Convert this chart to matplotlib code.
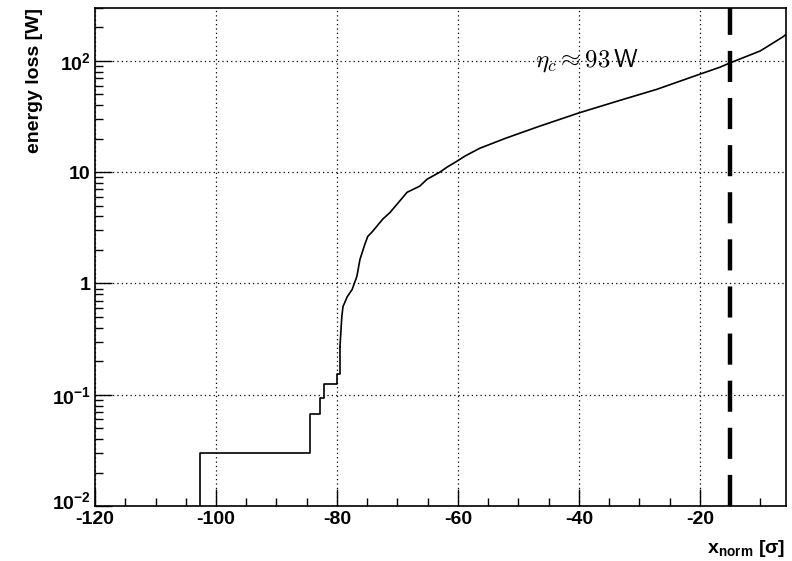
import matplotlib
matplotlib.use("Agg")
import matplotlib.pyplot as plt
import matplotlib.transforms as mtransforms
from matplotlib.ticker import FixedLocator, FixedFormatter, MultipleLocator, LogLocator, NullFormatter

plt.rcParams['font.family'] = ['Liberation Sans', 'DejaVu Sans']
plt.rcParams['mathtext.fontset'] = 'custom'
plt.rcParams['mathtext.rm'] = 'Liberation Sans:bold'
plt.rcParams['mathtext.bf'] = 'Liberation Sans:bold'
plt.rcParams['mathtext.it'] = 'Liberation Sans:bold'

# discrete (step) part of the curve
step_x = [-102.6, -102.6, -84.5, -82.8, -82.2, -80.05, -79.5]
step_y = [0.005, 0.0301, 0.0674, 0.093, 0.125, 0.155, 0.27]

# dense (near continuous) part of the curve
curve_x = [-79.5, -79.2, -79.0, -78.3, -77.5, -76.7, -76.2, -75.4, -74.9, -74.2, -73.4,
           -72.4, -71.2, -68.4, -66.3, -65.1, -63.0, -61.8, -60.0, -58.9, -56.4, -52.1,
           -46.6, -40.0, -33.1, -27.1, -20.0, -16.7, -15.0, -10.0, -6.3, -5.8]
curve_y = [0.27, 0.5, 0.62, 0.76, 0.88, 1.16, 1.64, 2.24, 2.65, 2.9, 3.27,
           3.8, 4.36, 6.6, 7.5, 8.65, 10.0, 11.1, 12.7, 13.9, 16.4, 20.2,
           25.8, 34.1, 44.4, 55.6, 76.0, 87.7, 96.0, 123.0, 164.0, 172.0]

cut_x = -15.0
x_ticks = [-120, -100, -80, -60, -40, -20]
x_ticklabels = ['-120', '-100', '-80', '-60', '-40', '-20']
y_ticks = [0.01, 0.1, 1, 10, 100]
y_ticklabels = [r'$\mathbf{10^{-2}}$', r'$\mathbf{10^{-1}}$', '1', '10', r'$\mathbf{10^{2}}$']

fig = plt.figure(figsize=(7.92, 5.61), dpi=100)
ax = fig.add_axes([0.12, 0.098, 0.872, 0.888])

ax.plot(step_x, step_y, color='black', lw=1.2, drawstyle='steps-post')
ax.plot(curve_x, curve_y, color='black', lw=1.2)
ax.axvline(cut_x, color='black', lw=3.2, dashes=(7, 3.6))

ax.set_yscale('log')
ax.set_xlim(-120, -5.8)
ax.set_ylim(0.01, 300)

ax.xaxis.set_major_locator(FixedLocator(x_ticks))
ax.xaxis.set_major_formatter(FixedFormatter(x_ticklabels))
ax.xaxis.set_minor_locator(MultipleLocator(5))
ax.yaxis.set_major_locator(FixedLocator(y_ticks))
ax.yaxis.set_major_formatter(FixedFormatter(y_ticklabels))
ax.yaxis.set_minor_locator(LogLocator(base=10, subs=range(2, 10)))
ax.yaxis.set_minor_formatter(NullFormatter())

ax.tick_params(which='both', direction='in', top=False, right=False)
ax.tick_params(which='major', length=12, width=1, labelsize=14)
ax.tick_params(axis='y', which='major', pad=3)
ax.tick_params(which='minor', length=6, width=1)
for lbl in ax.get_xticklabels() + ax.get_yticklabels():
    lbl.set_fontweight('bold')

# lift the lowest y label a little, as in the reference
fig.canvas.draw()
ylbls = ax.get_yticklabels()
ylbls[0].set_transform(ylbls[0].get_transform() +
                       mtransforms.ScaledTranslation(0, 6 / 100, fig.dpi_scale_trans))

ax.grid(True, which='major', color='black', linestyle=(0, (1, 2.5)), lw=0.9)
for s in ax.spines.values():
    s.set_linewidth(1.2)

ax.text(-47.3, 100, r'$\eta_c \approx 93\,\mathsf{W}$', fontsize=18,
        math_fontfamily='cm', va='center', ha='left')

fig.text(0.044, 0.986, 'energy loss [W]', rotation=90, ha='center', va='top',
         fontsize=14, fontweight='bold')
fig.text(0.992, 0.023, r'$\mathbf{x_{norm}}$ [$\mathregular{\sigma}$]', ha='right', va='center',
         fontsize=14, fontweight='bold')

fig.savefig('out.png', dpi=100)
